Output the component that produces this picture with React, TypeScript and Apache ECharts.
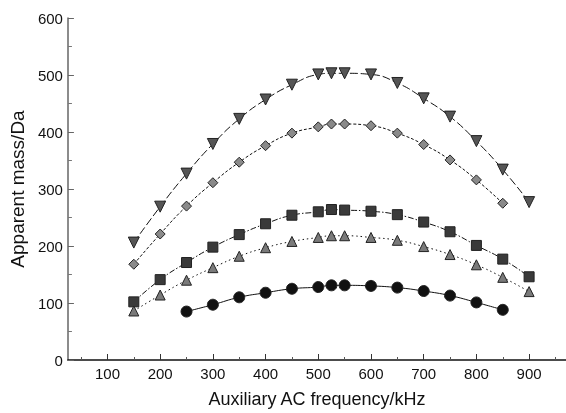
import React, { useEffect, useRef } from "react";
import * as echarts from "echarts";

const freqDown = [150, 200, 250, 300, 350, 400, 450, 500, 525, 550, 600, 650, 700, 750, 800, 850, 900];
const massDown = [206, 269, 327, 379, 423, 457, 483, 501, 503, 503, 501, 486, 459, 427, 384, 334, 277];
const freqDiamond = [150, 200, 250, 300, 350, 400, 450, 500, 525, 550, 600, 650, 700, 750, 800, 850];
const massDiamond = [168, 221, 270, 311, 347, 376, 398, 409, 414, 414, 411, 398, 378, 351, 316, 275];
const freqSquare = [150, 200, 250, 300, 350, 400, 450, 500, 525, 550, 600, 650, 700, 750, 800, 850, 900];
const massSquare = [102, 141, 171, 198, 220, 239, 254, 260, 264, 263, 261, 255, 242, 225, 201, 177, 146];
const freqUp = [150, 200, 250, 300, 350, 400, 450, 500, 525, 550, 600, 650, 700, 750, 800, 850, 900];
const massUp = [86, 114, 140, 162, 182, 197, 208, 215, 218, 218, 215, 210, 199, 185, 167, 145, 120];
const freqCircle = [250, 300, 350, 400, 450, 500, 525, 550, 600, 650, 700, 750, 800, 850];
const massCircle = [85, 97, 110, 118, 125, 128, 131, 131, 130, 127, 121, 113, 101, 88];

const xLabels = [100, 200, 300, 400, 500, 600, 700, 800, 900];
const xMinorTicks = [50, 150, 250, 350, 450, 550, 650, 750, 850, 950];

const zip = (xs: number[], ys: number[]) => xs.map((x, i) => [x, ys[i]]);

export default function App() {
  const ref = useRef<HTMLDivElement>(null);
  useEffect(() => {
    const chart = echarts.init(ref.current!, null, { renderer: "svg" });
    const font = "Liberation Sans, Arial, sans-serif";
    const mk = (
      name: string,
      data: number[][],
      symbol: string,
      size: number,
      color: string,
      dash: any,
      rotate = 0
    ) => ({
      name,
      type: "line",
      data,
      smooth: true,
      symbol,
      symbolSize: size,
      symbolRotate: rotate,
      itemStyle: { color, borderColor: "#222", borderWidth: 1 },
      lineStyle: { color: "#111", width: 1, type: dash },
    });
    chart.setOption({
      animation: false,
      grid: { left: 67, right: 0, top: 18, bottom: 51, containLabel: false },
      xAxis: [
        {
          type: "value",
          min: 25,
          max: 970,
          name: "Auxiliary AC frequency/kHz",
          nameLocation: "middle",
          nameGap: 30,
          nameTextStyle: { fontFamily: font, fontSize: 18, color: "#111" },
          axisLine: { lineStyle: { color: "#111", width: 1.5 } },
          axisTick: { inside: true, length: 6, customValues: xLabels, lineStyle: { color: "#333" } },
          axisLabel: { customValues: xLabels, fontFamily: font, fontSize: 15, color: "#111", margin: 6 },
          splitLine: { show: false },
        },
        {
          type: "value",
          min: 25,
          max: 970,
          position: "bottom",
          axisLine: { show: false },
          axisTick: { inside: true, length: 3, customValues: xMinorTicks, lineStyle: { color: "#555" } },
          axisLabel: { show: false },
          splitLine: { show: false },
        },
      ],
      yAxis: {
        type: "value",
        min: 0,
        max: 600,
        interval: 100,
        name: "Apparent mass/Da",
        nameLocation: "middle",
        nameGap: 40,
        nameTextStyle: { fontFamily: font, fontSize: 19, color: "#111" },
        axisLine: { show: true, lineStyle: { color: "#666", width: 1.5 } },
        axisTick: { show: true, inside: true, length: 6, lineStyle: { color: "#666" } },
        minorTick: { show: true, splitNumber: 2, length: 4, lineStyle: { color: "#777" } },
        axisLabel: { fontFamily: font, fontSize: 15, color: "#111", margin: 5 },
        splitLine: { show: false },
      },
      series: [
        mk("down", zip(freqDown, massDown), "triangle", 11, "#555", [8, 3], 180),
        mk("diamond", zip(freqDiamond, massDiamond), "diamond", 10, "#8a8a8a", [3, 2]),
        mk("square", zip(freqSquare, massSquare), "rect", 10, "#3a3a3a", [6, 2, 1.5, 2]),
        mk("up", zip(freqUp, massUp), "triangle", 10, "#7a7a7a", [1.5, 3]),
        mk("circle", zip(freqCircle, massCircle), "circle", 11, "#111", "solid"),
      ],
    });
    return () => chart.dispose();
  }, []);
  return <div ref={ref} style={{ position: "fixed", left: 0, top: 0, width: 566, height: 413 }} />;
}
